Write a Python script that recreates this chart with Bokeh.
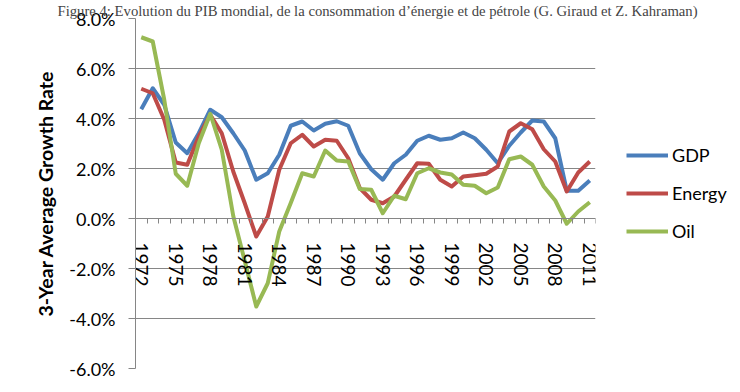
import numpy as np
from bokeh.plotting import figure
from bokeh.models import (Range1d, FixedTicker, PrintfTickFormatter, Legend, LegendItem)
from bokeh.embed import file_html
from bokeh.resources import INLINE

years = list(range(1972, 2012))
gdp = [4.37, 5.21, 4.55, 3.04, 2.61, 3.41, 4.35, 4.05, 3.41, 2.72,
       1.55, 1.81, 2.55, 3.71, 3.88, 3.52, 3.79, 3.89, 3.71, 2.61,
       1.97, 1.55, 2.21, 2.55, 3.11, 3.31, 3.15, 3.21, 3.44, 3.21,
       2.75, 2.21, 2.91, 3.44, 3.92, 3.88, 3.21, 1.11, 1.11, 1.52]
energy = [5.19, 5.01, 3.95, 2.24, 2.15, 3.28, 4.15, 3.41, 1.88, 0.61,
          -0.72, 0.08, 1.95, 3.01, 3.35, 2.88, 3.15, 3.11, 2.41, 1.22,
          0.75, 0.61, 0.88, 1.55, 2.21, 2.19, 1.55, 1.28, 1.68, 1.73,
          1.79, 2.08, 3.48, 3.81, 3.57, 2.77, 2.28, 1.08, 1.84, 2.28]
oil = [7.25, 7.08, 4.75, 1.79, 1.31, 3.01, 4.19, 2.75, 0.10, -1.70,
       -3.52, -2.59, -0.52, 0.62, 1.81, 1.68, 2.72, 2.32, 2.28, 1.18,
       1.15, 0.21, 0.91, 0.77, 1.81, 2.01, 1.84, 1.76, 1.35, 1.31,
       1.01, 1.24, 2.37, 2.48, 2.15, 1.28, 0.72, -0.21, 0.28, 0.65]
label_years = list(range(1972, 2012, 3))
y_ticks = [-6, -4, -2, 0, 2, 4, 6, 8]

series_names = ["GDP", "Energy", "Oil"]
series_colors = ["#4A7EBB", "#BE4B48", "#98B954"]

TEXT_FONT = "Lato"

p = figure(frame_width=460, frame_height=350, output_backend="svg", toolbar_location=None,
           x_range=Range1d(years[0] - 0.5, years[-1] + 0.5), y_range=Range1d(-6, 8),
           min_border_left=135, min_border_top=16, min_border_bottom=12, min_border_right=0)
p.outline_line_color = None

p.title.text = ("Figure 4: Evolution du PIB mondial, de la consommation d\u2019\u00e9nergie "
                "et de p\u00e9trole (G. Giraud et Z. Kahraman)")
p.title.text_font = "Liberation Serif"
p.title.text_font_size = "14.7px"
p.title.text_font_style = "normal"
p.title.align = "left"
p.title.offset = -78
p.title.standoff = 0

# axes
xa = p.xaxis[0]
xa.ticker = FixedTicker(ticks=label_years, minor_ticks=[y - 0.5 for y in years] + [years[-1] + 0.5])
xa.fixed_location = 0
xa.major_tick_line_color = None
xa.major_tick_out = 5
xa.major_tick_in = 0
xa.minor_tick_out = 5
xa.minor_tick_in = 0
xa.minor_tick_line_color = "#868686"
xa.axis_line_color = "#868686"
xa.major_label_orientation = "vertical"
xa.major_label_standoff = 19
xa.major_label_text_font = TEXT_FONT
xa.major_label_text_font_size = "19px"
xa.major_label_text_color = "black"

ya = p.yaxis[0]
ya.ticker = FixedTicker(ticks=y_ticks)
ya.formatter = PrintfTickFormatter(format="%.1f%%")
ya.axis_line_color = "#868686"
ya.major_tick_line_color = "#868686"
ya.major_tick_out = 7
ya.major_tick_in = 0
ya.minor_tick_line_color = None
ya.major_label_standoff = 13
ya.major_label_text_font = TEXT_FONT
ya.major_label_text_font_size = "18px"
ya.major_label_text_color = "black"
ya.axis_label = "3-Year Average Growth Rate"
ya.axis_label_text_font = TEXT_FONT
ya.axis_label_text_font_style = "bold"
ya.axis_label_text_font_size = "19.5px"
ya.axis_label_text_color = "black"
ya.axis_label_standoff = 9

p.xgrid.grid_line_color = None
p.ygrid.ticker = FixedTicker(ticks=y_ticks)
p.ygrid.grid_line_color = "#868686"
p.ygrid.grid_line_width = 1

items = []
for name, vals, col in zip(series_names, [gdp, energy, oil], series_colors):
    r = p.line(years, vals, line_color=col, line_width=4, line_join="round")
    items.append(LegendItem(label=name, renderers=[r]))

legend = Legend(items=items, location="center_left")
legend.margin = 31
legend.padding = 0
legend.border_line_color = None
legend.background_fill_alpha = 0
legend.glyph_width = 42
legend.glyph_height = 20
legend.label_height = 20
legend.spacing = 16
legend.label_standoff = 4
legend.label_text_font = TEXT_FONT
legend.label_text_font_size = "18px"
legend.label_text_color = "black"
p.add_layout(legend, "right")

open("out.html", "w").write(file_html(p, INLINE))
